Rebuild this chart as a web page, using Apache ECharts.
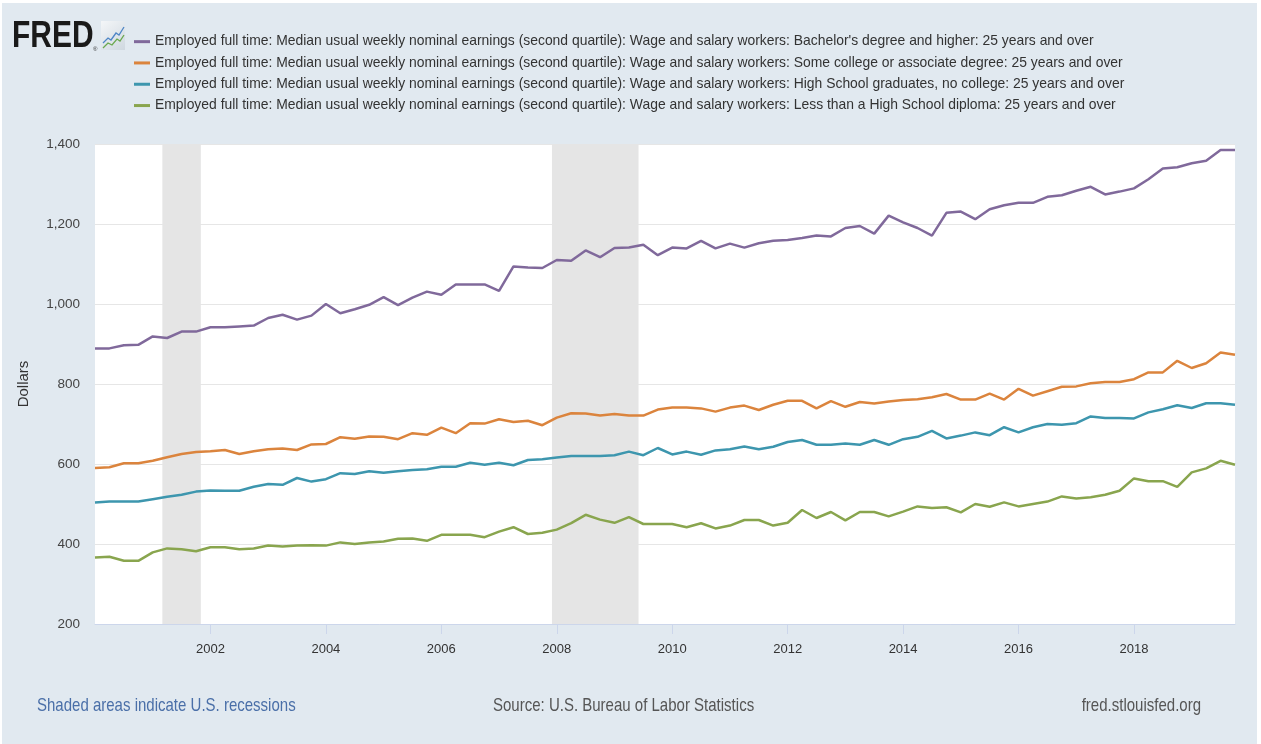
<!DOCTYPE html>
<html>
<head>
<meta charset="utf-8">
<script src="https://cdn.jsdelivr.net/npm/echarts@6/dist/echarts.min.js"></script>
<style>
html,body{margin:0;padding:0;background:#fff;}
#chart{width:1261px;height:744px;}
</style>
</head>
<body>
<div id="chart"></div>
<script>
// ---- Data (quarterly, 2000 Q1 – 2019 Q4) ----
var startYear = 2000;
var seriesNames = [
  "Employed full time: Median usual weekly nominal earnings (second quartile): Wage and salary workers: Bachelor's degree and higher: 25 years and over",
  "Employed full time: Median usual weekly nominal earnings (second quartile): Wage and salary workers: Some college or associate degree: 25 years and over",
  "Employed full time: Median usual weekly nominal earnings (second quartile): Wage and salary workers: High School graduates, no college: 25 years and over",
  "Employed full time: Median usual weekly nominal earnings (second quartile): Wage and salary workers: Less than a High School diploma: 25 years and over"
];
var bachelors = [
  889, 889, 897, 898, 919, 915, 931, 931, 942, 942, 944, 946, 965, 973, 961, 971, 1000, 977, 987, 998,
  1017, 997, 1016, 1031, 1023, 1049, 1049, 1049, 1033, 1094, 1091, 1090, 1110, 1108, 1134, 1117, 1140, 1141, 1148, 1122,
  1141, 1139, 1158, 1139, 1151, 1141, 1152, 1158, 1160, 1165, 1171, 1169, 1190, 1195, 1176, 1221, 1204, 1190, 1171, 1228,
  1231, 1212, 1237, 1247, 1253, 1253, 1268, 1272, 1283, 1293, 1274, 1281, 1289, 1312, 1339, 1342, 1352, 1358, 1385, 1385
];
var someCollege = [
  590, 592, 602, 602, 608, 617, 625, 630, 632, 635, 625, 632, 637, 639, 635, 649, 650, 667, 663, 669,
  668, 662, 677, 673, 691, 677, 702, 701, 712, 705, 708, 697, 716, 727, 726, 721, 725, 721, 721, 736,
  741, 741, 739, 731, 741, 746, 735, 748, 758, 758, 739, 757, 743, 755, 751, 756, 760, 762, 767, 775,
  761, 761, 776, 761, 788, 771, 782, 793, 794, 802, 805, 805, 812, 829, 829, 858, 840, 852, 879, 873
];
var highSchool = [
  504, 506, 506, 506, 512, 518, 523, 531, 534, 533, 533, 543, 550, 548, 565, 556, 562, 577, 575, 582,
  578, 582, 585, 587, 593, 593, 603, 598, 603, 597, 610, 612, 616, 620, 620, 620, 622, 631, 622, 640,
  624, 631, 623, 634, 637, 644, 637, 643, 655, 660, 648, 648, 651, 648, 660, 648, 662, 668, 683, 664,
  671, 679, 672, 692, 679, 692, 700, 698, 702, 719, 715, 715, 714, 729, 737, 747, 740, 752, 752, 748
];
var lessThanHS = [
  366, 368, 358, 358, 379, 389, 387, 382, 392, 392, 387, 389, 396, 394, 396, 397, 396, 404, 400, 404,
  406, 413, 414, 408, 423, 423, 423, 417, 431, 442, 425, 428, 436, 452, 473, 461, 453, 467, 450, 450,
  450, 442, 452, 439, 446, 460, 460, 446, 453, 485, 465, 480, 459, 480, 480, 469, 481, 494, 490, 492,
  479, 500, 493, 504, 494, 500, 506, 519, 514, 517, 523, 533, 564, 557, 557, 543, 579, 589, 608, 598
];
var recessions = [["2001-03-01", "2001-11-01"], ["2007-12-01", "2009-06-01"]];
var xTickYears = [2002, 2004, 2006, 2008, 2010, 2012, 2014, 2016, 2018];
var yTicks = [200, 400, 600, 800, 1000, 1200, 1400];
var colors = ["#80699B", "#DB843D", "#3D96AE", "#89A54E"];

// ---- helpers ----
function dateToYear(s) {
  var p = s.split("-");
  return (+p[0]) + (+p[1] - 1) / 12;
}
function toPoints(arr) {
  return arr.map(function (v, i) { return [startYear + i / 4, v]; });
}

var FONT = "'Liberation Sans',Arial,sans-serif";
var chart = echarts.init(document.getElementById('chart'), null, { renderer: 'canvas' });

var series = [{
  name: '__recessions',
  type: 'line',
  data: [],
  silent: true,
  z: 1,
  markArea: {
    silent: true,
    itemStyle: { color: '#e5e5e5' },
    data: recessions.map(function (r) { return [{ xAxis: dateToYear(r[0]) }, { xAxis: dateToYear(r[1]) }]; })
  }
}];
[bachelors, someCollege, highSchool, lessThanHS].forEach(function (d, k) {
  series.push({
    name: seriesNames[k],
    type: 'line',
    data: toPoints(d),
    showSymbol: false,
    symbol: 'none',
    z: 3,
    lineStyle: { width: 2.5, color: colors[k] },
    itemStyle: { color: colors[k] }
  });
});

function footText(txt, x, align, color) {
  return { type: 'text', x: x, y: 706, scaleX: 0.79, silent: true,
    style: { text: txt, fontFamily: FONT, fontSize: 19, fill: color, align: align, verticalAlign: 'middle' } };
}

var option = {
  animation: false,
  backgroundColor: 'transparent',
  color: colors,
  grid: {
    left: 95, right: 26, top: 144, bottom: 120,
    show: true, backgroundColor: '#ffffff', borderWidth: 0,
    containLabel: false, outerBoundsMode: 'none'
  },
  legend: {
    orient: 'vertical',
    left: 129, top: 26,
    icon: 'rect',
    itemWidth: 16, itemHeight: 3,
    itemGap: 0,
    selectedMode: false,
    data: seriesNames,
    textStyle: { fontFamily: FONT, fontSize: 13.9, lineHeight: 21.3, color: '#333' }
  },
  xAxis: {
    type: 'value',
    min: startYear, max: 2019.75,
    interval: 2,
    splitLine: { show: false },
    axisLine: { show: true, lineStyle: { color: '#ccd6eb', width: 1 } },
    axisTick: { show: true, length: 10, lineStyle: { color: '#ccd6eb' }, customValues: xTickYears },
    axisLabel: {
      customValues: xTickYears,
      margin: 19,
      fontFamily: FONT, fontSize: 13, color: '#333',
      formatter: function (v) { return String(v); }
    }
  },
  yAxis: {
    type: 'value',
    min: yTicks[0], max: yTicks[yTicks.length - 1], interval: 200,
    name: 'Dollars',
    nameLocation: 'middle',
    nameRotate: 90,
    nameGap: 64,
    nameTextStyle: { fontFamily: FONT, fontSize: 15, color: '#333' },
    axisLine: { show: false },
    axisTick: { show: false },
    splitLine: { show: true, lineStyle: { color: '#e6e6e6', width: 1 } },
    axisLabel: {
      margin: 15,
      fontFamily: FONT, fontSize: 13.5, color: '#444',
      formatter: function (v) { return v.toLocaleString('en-US'); }
    }
  },
  graphic: [
    { type: 'rect', z: -10, silent: true, shape: { x: 2, y: 3, width: 1255, height: 741 }, style: { fill: '#e1e9f0' } },
    // FRED logo
    { type: 'text', z: 5, x: 12, y: 37, silent: true, scaleX: 0.81,
      style: { text: 'FRED', fontFamily: FONT, fontWeight: 'bold', fontSize: 37, fill: '#1a1a1a', verticalAlign: 'middle' } },
    { type: 'text', z: 5, x: 93, y: 49, silent: true,
      style: { text: '®', fontFamily: FONT, fontSize: 6, fill: '#333', verticalAlign: 'middle' } },
    { type: 'group', x: 101, y: 21, silent: true, z: 5, children: [
      { type: 'rect', shape: { x: 0, y: 0, width: 24, height: 29 },
        style: { fill: new echarts.graphic.LinearGradient(0, 0, 1, 1, [{ offset: 0, color: '#f4f6f8' }, { offset: 1, color: '#cfd8e0' }]) } },
      { type: 'polyline', shape: { points: [[2, 22], [7, 17], [10, 19], [15, 12], [18, 14], [23, 6]] }, style: { stroke: '#4f86c6', lineWidth: 1.3, fill: null } },
      { type: 'polyline', shape: { points: [[2, 27], [7, 22], [11, 24], [16, 18], [19, 20], [23, 14]] }, style: { stroke: '#6aa84f', lineWidth: 1.3, fill: null } }
    ] },
    // footer
    footText('Shaded areas indicate U.S. recessions', 37, 'left', '#4a6fa8'),
    footText('Source: U.S. Bureau of Labor Statistics', 493, 'left', '#555'),
    footText('fred.stlouisfed.org', 1201, 'right', '#555')
  ],
  series: series
};
chart.setOption(option);
</script>
</body>
</html>
